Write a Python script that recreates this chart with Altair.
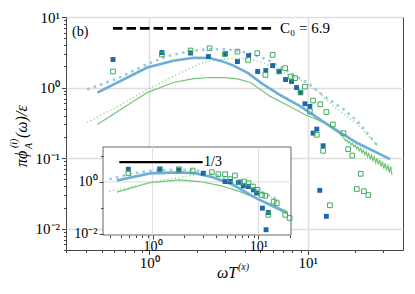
import altair as alt
import pandas as pd

# ---------------- main panel data ----------------
bs_x = [0.47, 0.97, 1.42, 1.9, 2.4, 2.9, 3.4, 4.2, 5.2, 6.7, 9.0, 12.5, 20.5, 33.1]
bs_y = [0.85, 1.92, 2.4, 2.64, 2.62, 2.35, 2.05, 1.6, 1.12, 0.78, 0.54, 0.33, 0.164, 0.097]

bd_x = [0.405, 0.63, 0.97, 1.3, 1.8, 2.4, 3.0, 3.7, 4.5, 5.4, 6.7, 8.2, 10.0, 12.6, 16.9, 20.7, 27.8]
bd_y = [0.94, 1.35, 2.15, 2.8, 3.3, 3.5, 3.5, 3.3, 2.95, 2.55, 1.98, 1.5, 1.17, 0.76, 0.49, 0.33, 0.146]

gs_x = [0.47, 0.97, 1.42, 1.9, 2.4, 3.0, 3.6, 4.35, 5.8, 7.7, 9.5, 12.6, 16.2,
        17.0, 17.34, 17.69, 18.04, 18.40, 18.77, 19.15, 19.53, 19.92, 20.32, 20.72, 21.14,
        21.56, 21.99, 22.43, 22.88, 23.34, 23.81, 24.28, 24.77, 25.26, 25.77, 26.28, 26.81,
        27.35, 27.89, 28.45, 29.02, 29.60, 30.19, 30.80, 31.41, 32.04, 32.68, 33.34, 34.0]
gs_y = [0.30, 0.85, 1.18, 1.34, 1.39, 1.38, 1.33, 1.18, 0.75, 0.54, 0.42, 0.32, 0.215,
        0.190, 0.176, 0.180, 0.165, 0.171, 0.155, 0.162, 0.145, 0.153, 0.136, 0.145, 0.127,
        0.138, 0.120, 0.131, 0.112, 0.124, 0.105, 0.117, 0.098, 0.111, 0.092, 0.105, 0.086,
        0.100, 0.081, 0.0948, 0.0757, 0.0899, 0.0709, 0.0852, 0.0664, 0.0808, 0.0622, 0.0766, 0.0574]

gd_x = [0.405, 0.63, 0.97, 1.5, 2.1, 2.7, 3.5, 4.35, 5.4, 6.7, 9.0, 11.5, 14.6, 20.7, 27.8]
gd_y = [0.32, 0.54, 0.94, 1.53, 2.2, 2.5, 2.6, 2.55, 2.2, 1.7, 1.3, 0.9, 0.54, 0.3, 0.146]

bq_x = [0.59, 1.2, 1.82, 2.36, 3.03, 3.6, 4.23, 4.83, 5.43, 6.0, 6.6, 7.24, 7.9, 8.5,
        9.0, 9.6, 10.3, 10.8, 11.4, 11.9, 12.5, 13.1]
bq_y = [2.5, 3.14, 3.09, 2.75, 3.03, 2.34, 2.84, 1.69, 1.74, 2.05, 1.69, 1.3, 1.22, 1.0,
        0.85, 0.59, 0.54, 0.226, 0.258, 0.035, 0.15, 0.015]

gq_x = [0.59, 1.2, 1.82, 2.4, 3.0, 3.6, 4.2, 4.8, 5.4, 6.0, 6.6, 7.2, 7.8, 8.3, 9.0,
        9.6, 10.3, 10.8, 11.4, 12.0, 12.5, 13.1, 13.8, 14.4, 16.8, 18.0, 19.1, 20.4,
        21.6, 22.6, 24.1]
gq_y = [1.69, 2.94, 3.35, 3.6, 2.97, 3.23, 2.47, 3.07, 1.51, 2.9, 1.69, 1.88, 1.43, 1.36, 0.85,
        1.03, 0.46, 0.655, 0.214, 0.58, 0.127, 0.45, 0.0215, 0.30, 0.226, 0.134, 0.109, 0.0366,
        0.06, 0.034, 0.030]

c0_x = [0.59, 6.0]
C0 = 6.9

# ---------------- inset data ----------------
ibs_x = [0.46, 0.94, 1.8, 2.6, 3.7, 5.75, 9.5, 18.6]
ibs_y = [1.12, 2.13, 2.32, 2.13, 1.5, 0.77, 0.235, 0.062]

ibd_x = [0.39, 0.65, 0.94, 1.81, 2.8, 4.35, 6.7, 10.4, 15.5]
ibd_y = [1.26, 2.13, 2.67, 3.0, 2.67, 1.68, 0.89, 0.43, 0.2]

igs_x = [0.46, 0.94, 1.81, 2.8, 4.35, 6.7, 10.4, 18.8]
igs_y = [0.40, 0.94, 1.19, 1.03, 0.72, 0.42, 0.2, 0.071]

igd_x = [0.39, 0.65, 0.94, 1.81, 2.6, 4.35, 6.7, 10.4, 15.5]
igd_y = [0.43, 0.66, 0.94, 1.5, 1.9, 1.35, 0.75, 0.37, 0.2]

ibq_x = [0.59, 1.17, 1.77, 3.01, 4.84, 5.4, 6.47, 7.2, 8.05, 8.97, 9.6, 10.9, 12.4, 11.8]
ibq_y = [3.08, 3.08, 2.9, 2.16, 1.03, 1.03, 0.94, 0.70, 0.66, 0.49, 0.37, 0.096, 0.065, 0.014]

igq_x = [0.59, 1.17, 1.77, 2.39, 3.62, 4.18, 4.84, 5.4, 6.0, 6.7, 7.3, 8.05, 8.85, 9.8,
         10.8, 11.6, 12.4, 13.9, 14.9, 17.9, 19.7]
igq_y = [2.16, 3.08, 3.08, 2.74, 2.36, 1.98, 1.98, 1.27, 1.76, 0.97, 1.03, 0.89, 0.66, 0.49,
         0.31, 0.29, 0.053, 0.17, 0.15, 0.053, 0.04]

slope_x = [0.485, 2.97]
slope_y = 5.85

# ---------------- axes/scales ----------------
XMIN, XMAX = 0.298, 39.9
YMIN, YMAX = 0.005, 10.0
IXMIN, IXMAX = 0.34, 20.3
IYMIN, IYMAX = 0.00875, 22.4

x_major = [1, 10]
y_major = [0.01, 0.1, 1, 10]
x_minor = [0.3, 0.4, 0.5, 0.6, 0.7, 0.8, 0.9, 2, 3, 4, 5, 6, 7, 8, 9, 20, 30]
y_minor = [0.005, 0.006, 0.007, 0.008, 0.009, 0.02, 0.03, 0.04, 0.05, 0.06, 0.07, 0.08, 0.09,
           0.2, 0.3, 0.4, 0.5, 0.6, 0.7, 0.8, 0.9, 2, 3, 4, 5, 6, 7, 8, 9]
ix_major = [1, 10]
iy_major = [0.01, 1]
ix_minor = [0.4, 0.5, 0.6, 0.7, 0.8, 0.9, 2, 3, 4, 5, 6, 7, 8, 9, 20]
iy_minor = [0.1, 10]

SERIF = "Liberation Serif"

mxs = alt.Scale(type="log", domain=[XMIN, XMAX], nice=False)
mys = alt.Scale(type="log", domain=[YMIN, YMAX], nice=False)
ixs = alt.Scale(type="log", domain=[IXMIN, IXMAX], range=[37, 225], nice=False)
iys = alt.Scale(type="log", domain=[IYMIN, IYMAX], range=[218, 130], nice=False)

xlab = "datum.value < 5 ? '10⁰' : '10¹'"
ylab = "datum.value < 0.05 ? '10⁻²' : datum.value < 0.5 ? '10⁻¹' : datum.value < 5 ? '10⁰' : '10¹'"
iylab = "datum.value < 0.1 ? '10⁻²' : '10⁰'"

main_x_axis = alt.Axis(values=x_major, labelExpr=xlab, grid=True, gridColor="#dedede", gridWidth=1.5,
                       tickSize=4.5, domain=False, orient="bottom", title="",
                       labelFontSize=15, labelPadding=1)
main_y_axis = alt.Axis(values=y_major, labelExpr=ylab, grid=True, gridColor="#dedede", gridWidth=1.5,
                       tickSize=4.5, domain=False, orient="left", title="",
                       labelFontSize=15, labelPadding=2)
main_x_minor = alt.Axis(values=x_minor, labels=False, tickSize=2.5, grid=False, domain=False,
                        orient="bottom", title="")
main_y_minor = alt.Axis(values=y_minor, labels=False, tickSize=2.5, grid=False, domain=False,
                        orient="left", title="")
ins_x_axis = alt.Axis(values=ix_major, labelExpr=xlab, grid=False, domain=False, orient="bottom",
                      offset=-15, tickSize=4, labelPadding=0, title="", zindex=1, labelFontSize=14)
ins_y_axis = alt.Axis(values=iy_major, labelExpr=iylab, grid=False, domain=False, orient="left",
                      offset=-37, tickSize=4, labelPadding=2, title="", zindex=1, labelFontSize=14)
ins_x_minor = alt.Axis(values=ix_minor, labels=False, tickSize=2.5, grid=False, domain=False,
                       orient="bottom", offset=-15, title="", zindex=1)
ins_y_minor = alt.Axis(values=iy_minor, labels=False, tickSize=2.5, grid=False, domain=False,
                       orient="left", offset=-37, title="", zindex=1)

# axis title pieces (math text with sub/superscripts)
ytitle_parts = ["πϕ", "(i)", "A", "(ω)/ε"]
xtitle_parts = ["ωT", "(x)"]


def enc(chart, xs, ys, xaxis=None, yaxis=None):
    return chart.encode(x=alt.X("x:Q", scale=xs, axis=xaxis),
                        y=alt.Y("y:Q", scale=ys, axis=yaxis))


def line(xv, yv, color, width, xs, ys, dash=None, xaxis=None, yaxis=None):
    kw = dict(color=color, strokeWidth=width, clip=True, strokeCap="butt")
    if dash is not None:
        kw["strokeDash"] = dash
    c = alt.Chart(pd.DataFrame({"x": xv, "y": yv})).mark_line(**kw)
    return enc(c, xs, ys, xaxis, yaxis)


def pts(xv, yv, color, filled, xs, ys, size):
    c = alt.Chart(pd.DataFrame({"x": xv, "y": yv})).mark_point(
        shape="square", filled=filled, color=color, size=size, opacity=1,
        strokeWidth=1, clip=True)
    return enc(c, xs, ys)


def label(text, px, py, size, angle=0, style="normal"):
    kw = dict(font=SERIF, fontSize=size, align="left", baseline="middle", color="black",
              fontStyle=style)
    if angle:
        kw["angle"] = angle
    return alt.Chart(pd.DataFrame({"t": [text]})).mark_text(**kw).encode(
        x=alt.value(px), y=alt.value(py), text="t:N")


BLUE = "#6baed6"
LBLUE = "#9ecae1"
GREEN = "#74c476"
LGREEN = "#a1d99b"
DBLUE = "#2166ac"
DGREEN = "#41ab5d"

layers = []
# main panel
layers.append(line(gs_x, gs_y, GREEN, 1.2, mxs, mys, xaxis=main_x_axis, yaxis=main_y_axis))
layers.append(line(gd_x, gd_y, LGREEN, 1.4, mxs, mys, dash=[1.4, 2.3], xaxis=main_x_minor, yaxis=main_y_minor))
layers.append(line(bs_x, bs_y, BLUE, 2.6, mxs, mys))
layers.append(line(bd_x, bd_y, LBLUE, 2.6, mxs, mys, dash=[2.6, 4.2]))
layers.append(pts(bq_x, bq_y, DBLUE, True, mxs, mys, 24))
layers.append(pts(gq_x, gq_y, DGREEN, False, mxs, mys, 22))
layers.append(line(c0_x, [C0, C0], "black", 2.6, mxs, mys, dash=[9.5, 4]))
layers.append(enc(alt.Chart(pd.DataFrame({"x": [6.68], "y": [C0], "t": ["C₀ = 6.9"]})).mark_text(
    font=SERIF, fontSize=15, align="left", baseline="middle", color="black"), mxs, mys).encode(text="t:N"))
layers.append(label("(b)", 6, 15, 14))

# y title
layers.append(label(ytitle_parts[0], -44, 150, 16, 270, "italic"))
layers.append(label(ytitle_parts[1], -52, 131, 10, 270, "italic"))
layers.append(label(ytitle_parts[2], -37, 132, 10, 270, "italic"))
layers.append(label(ytitle_parts[3], -44, 121, 16, 270, "italic"))
# x title
layers.append(label(xtitle_parts[0], 151, 256, 16, 0, "italic"))
layers.append(label(xtitle_parts[1], 172, 250, 10, 0, "italic"))

# inset
box = pd.DataFrame({"x": [IXMIN], "x2": [IXMAX], "y": [IYMIN], "y2": [IYMAX]})
layers.append(alt.Chart(box).mark_rect(fill="white", stroke="#666", strokeWidth=1).encode(
    x=alt.X("x:Q", scale=ixs, axis=ins_x_axis), x2="x2:Q",
    y=alt.Y("y:Q", scale=iys, axis=ins_y_axis), y2="y2:Q"))
vg = pd.DataFrame({"x": ix_major, "y": [IYMIN] * 2, "y2": [IYMAX] * 2})
layers.append(alt.Chart(vg).mark_rule(color="#dcdcdc", strokeWidth=1).encode(
    x=alt.X("x:Q", scale=ixs, axis=ins_x_minor),
    y=alt.Y("y:Q", scale=iys, axis=ins_y_minor), y2="y2:Q"))
hg = pd.DataFrame({"y": [1.0], "x": [IXMIN], "x2": [IXMAX]})
layers.append(alt.Chart(hg).mark_rule(color="#dcdcdc", strokeWidth=1).encode(
    x=alt.X("x:Q", scale=ixs, axis=None), x2="x2:Q",
    y=alt.Y("y:Q", scale=iys, axis=None)))
layers.append(line(igs_x, igs_y, GREEN, 1.2, ixs, iys))
layers.append(line(igd_x, igd_y, LGREEN, 1.4, ixs, iys, dash=[1.4, 2.3]))
layers.append(line(ibs_x, ibs_y, BLUE, 2.6, ixs, iys))
layers.append(line(ibd_x, ibd_y, LBLUE, 2.6, ixs, iys, dash=[2.6, 4.2]))
layers.append(pts(ibq_x, ibq_y, DBLUE, True, ixs, iys, 24))
layers.append(pts(igq_x, igq_y, DGREEN, False, ixs, iys, 22))
layers.append(line(slope_x, [slope_y, slope_y], "black", 2.2, ixs, iys))
layers.append(enc(alt.Chart(pd.DataFrame({"x": [3.06], "y": [slope_y], "t": ["1/3"]})).mark_text(
    font=SERIF, fontSize=14, align="left", baseline="middle", color="black"), ixs, iys).encode(text="t:N"))

chart = alt.layer(*layers).resolve_scale(
    x="independent", y="independent"
).resolve_axis(
    x="independent", y="independent"
).properties(
    width=337, height=233,
    autosize=alt.AutoSizeParams(type="none"),
    padding={"left": 58, "top": 9, "right": 4, "bottom": 36},
).configure_view(
    stroke="#444", strokeWidth=1
).configure_axis(
    labelFont=SERIF, titleFont=SERIF, labelColor="black", titleColor="black",
    tickColor="#444", titleFontWeight="normal"
)

chart.save("out.html", embed_options={"renderer": "svg", "actions": False})
